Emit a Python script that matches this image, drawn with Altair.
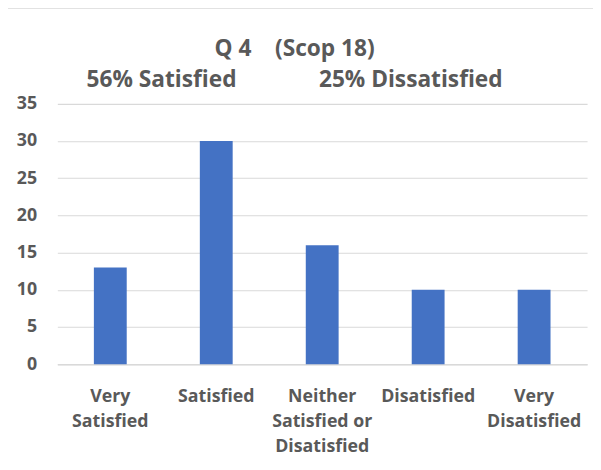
import altair as alt
import pandas as pd
import json

categories = ["Very Satisfied", "Satisfied", "Neither Satisfied or Disatisfied", "Disatisfied", "Very Disatisfied"]
label_lines = [["Very", "Satisfied"], ["Satisfied"], ["Neither", "Satisfied or", "Disatisfied"], ["Disatisfied"], ["Very", "Disatisfied"]]
counts = [13, 30, 16, 10, 10]
y_ticks = [0, 5, 10, 15, 20, 25, 30, 35]

NB = "\u00a0"
title_text = "Q" + NB + "4" + NB * 4 + "(Scop" + NB + "18)"
subtitle_text = "56%" + NB + "Satisfied" + NB * 14 + "25%" + NB + "Dissatisfied"

df = pd.DataFrame({"category": categories, "count": counts})
label_map = json.dumps(dict(zip(categories, label_lines)))

FONT = "Open Sans"
GREY = "#595959"

bars = alt.Chart(df).mark_bar(color="#4472C4").encode(
    x=alt.X("category:N", sort=categories, title=None,
            scale=alt.Scale(paddingInner=0.69, paddingOuter=0.345),
            axis=alt.Axis(labelAngle=0, labelExpr=f"{label_map}[datum.label]",
                          labelFont=FONT, labelFontSize=18, labelFontWeight="bold",
                          labelColor=GREY, labelPadding=24, labelLineHeight=25,
                          ticks=False, domainColor="#d9d9d9", domainWidth=1.5,
                          labelBaseline="top")),
    y=alt.Y("count:Q", title=None,
            scale=alt.Scale(domain=[0, 35], nice=False),
            axis=alt.Axis(values=y_ticks, labelFont=FONT, labelFontSize=18,
                          labelFontWeight="bold", labelColor=GREY, ticks=False,
                          domain=False, gridColor="#d9d9d9", gridWidth=1.2,
                          labelPadding=21)),
)

frame = alt.Chart(pd.DataFrame({"a": [0]})).mark_rect(
    fill=None, stroke="#d9d9d9", strokeWidth=1.5
).encode(x=alt.value(-52), x2=alt.value(800), y=alt.value(-97), y2=alt.value(800))

chart = alt.layer(frame, bars).properties(
    width=537, height=264,
    autosize=alt.AutoSizeParams(type="none"),
    padding={"left": 50, "top": 94, "right": 6, "bottom": 96},
    title=alt.TitleParams(text=title_text, subtitle=subtitle_text, anchor="middle",
                          dx=-28, offset=-86, font=FONT, fontSize=23, fontWeight="bold",
                          color=GREY, subtitleFont=FONT, subtitleFontSize=23,
                          subtitleFontWeight="bold", subtitleColor=GREY,
                          subtitlePadding=9),
).configure_view(stroke=None)

chart.save("out.html", embed_options={"renderer": "svg", "actions": False})
